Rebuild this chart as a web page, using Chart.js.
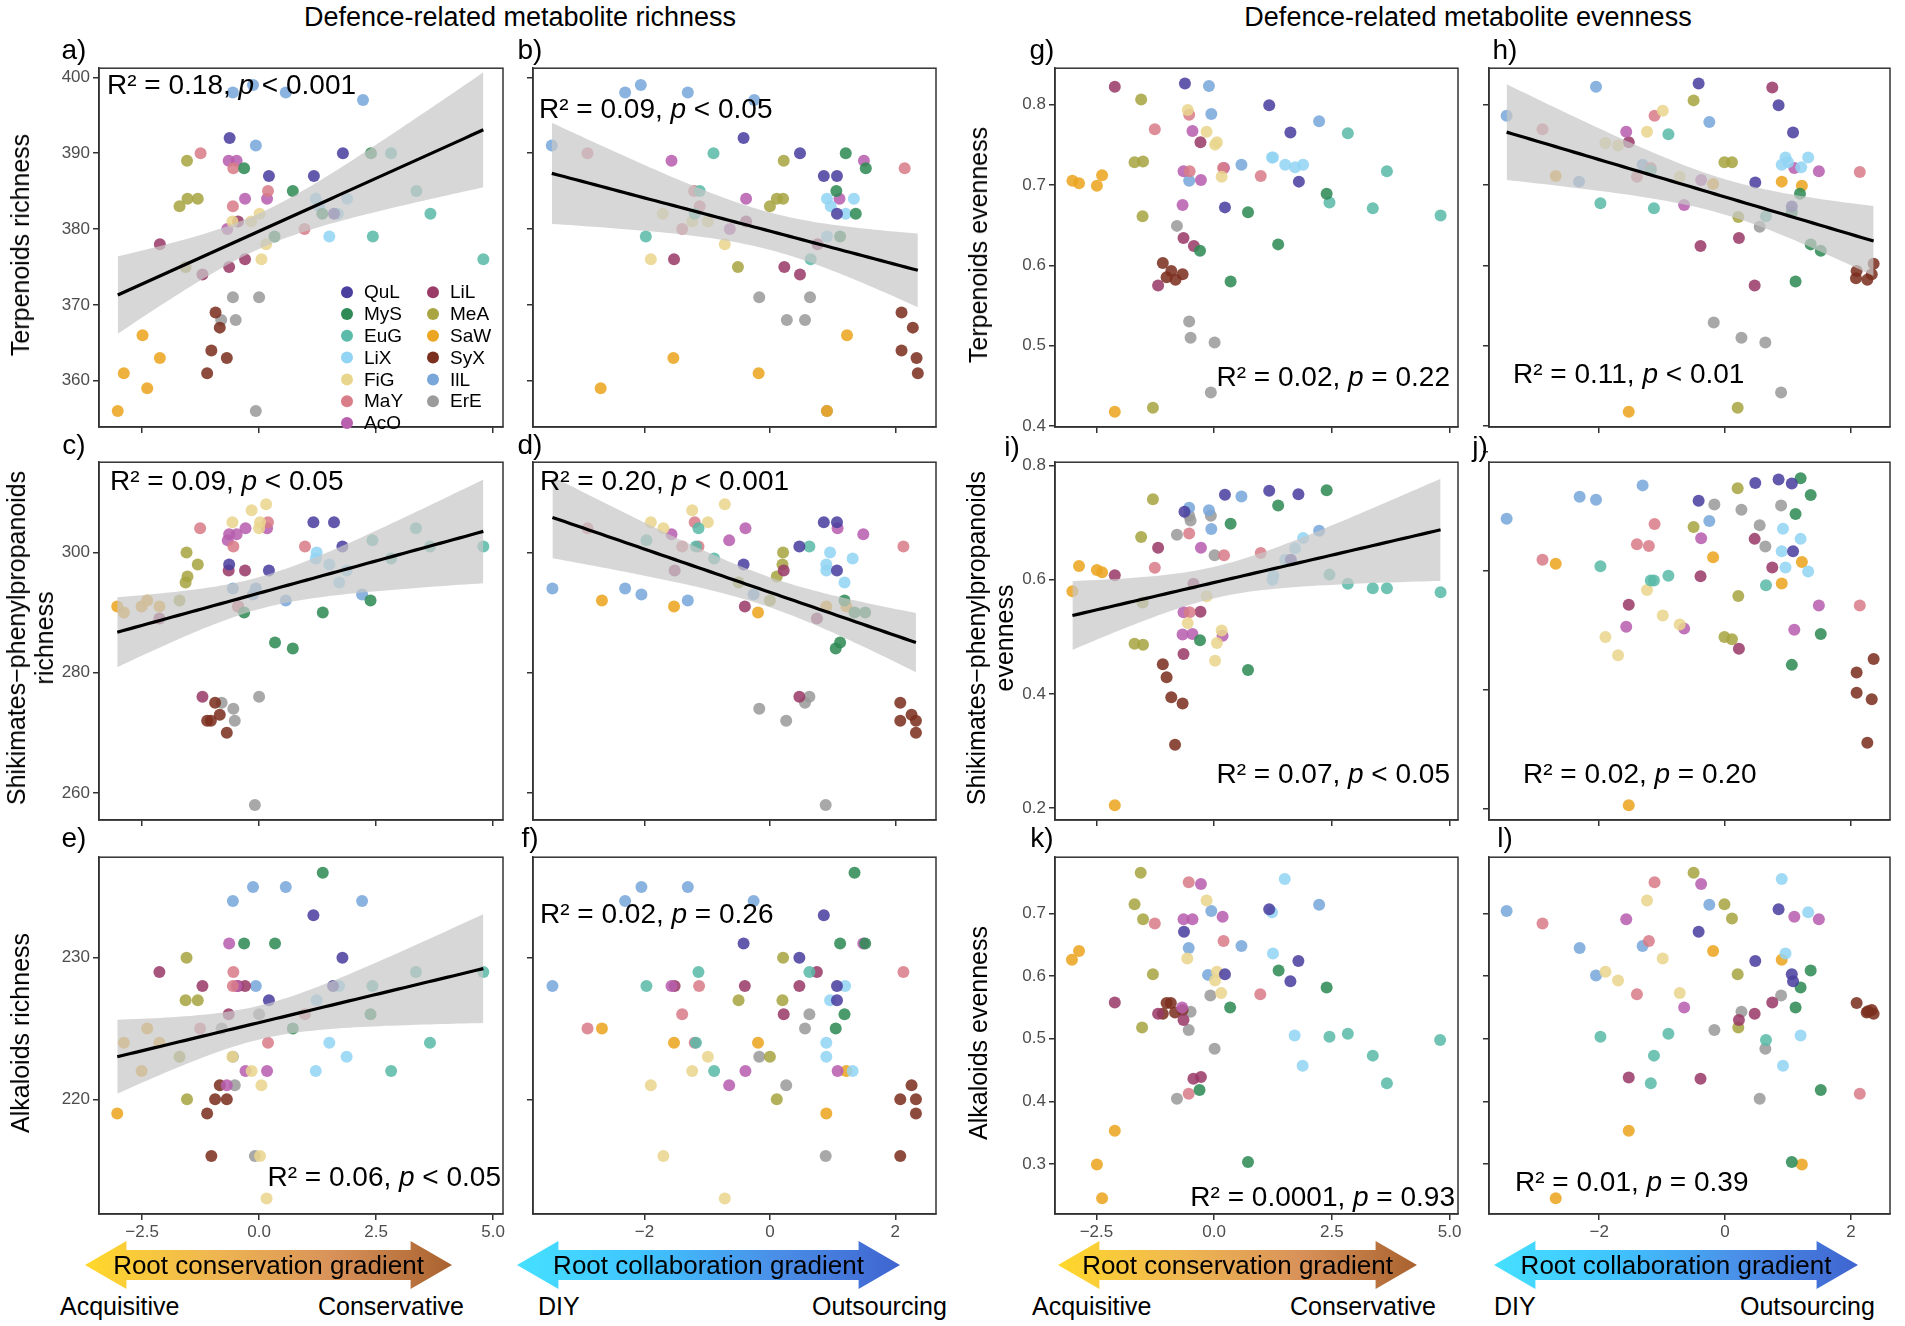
<!DOCTYPE html>
<html>
<head>
<meta charset="utf-8">
<script src="https://cdn.jsdelivr.net/npm/chart.js@4"></script>
<style>
  body { margin: 0; background: #fff; font-family: "Liberation Sans", Arial, sans-serif; }
  #fig { position: relative; width: 1905px; height: 1326px; overflow: hidden; }
  canvas { position: absolute; }
  .t { position: absolute; color: #000; white-space: nowrap; }
  .rot { transform: translate(-50%, -50%) rotate(-90deg); text-align: center; line-height: 28px; }
</style>
</head>
<body>
<div id="fig"></div>
<script>
// species order and colours
const species = ['QuL', 'MyS', 'EuG', 'LiX', 'FiG', 'MaY', 'AcO', 'LiL', 'MeA', 'SaW', 'SyX', 'IlL', 'ErE'];
const colors = ['#4a3f9f', '#2f8a55', '#5bbaa9', '#92d4f4', '#e9d68e', '#d97d88', '#b85fae', '#9a3b68', '#a9a543', '#eba520', '#7b2f1f', '#79a7da', '#9b9b9b'];

// tick labels
const xTicksCons = [-2.5, 0, 2.5, 5];
const xTicksColl = [-2, 0, 2];
const yTicksTerpR = [360, 370, 380, 390, 400];
const yTicksShikR = [260, 280, 300];
const yTicksAlkR = [220, 230];
const yTicksTerpE = [0.4, 0.5, 0.6, 0.7, 0.8];
const yTicksShikE = [0.2, 0.4, 0.6, 0.8];
const yTicksAlkE = [0.3, 0.4, 0.5, 0.6, 0.7];

// points per panel, in species order: [x, y]
const ptsA = [
  [[-0.63,392],[0.21,387],[1.17,387],[1.79,390],[1.60,382]],
  [[-0.32,388],[0.72,385],[1.35,382],[2.39,390],[0.33,379]],
  [[2.82,390],[3.36,385],[3.66,382],[2.43,379],[4.79,376]],
  [[1.21,384],[1.50,379],[1.88,384],[1.68,382],[1.28,383]],
  [[0.01,382],[-0.17,381],[0.15,378],[0.05,376],[-0.57,381]],
  [[-1.25,390],[-0.55,388],[-0.56,383],[0.19,385],[0.97,380]],
  [[-0.65,389],[-0.48,389],[-0.30,384],[0.17,384],[-0.68,380]],
  [[-2.12,378],[-1.21,374],[-0.64,375],[-0.30,376],[-0.45,381]],
  [[-1.54,389],[-1.70,383],[-1.53,384],[-1.31,384],[-1.57,375]],
  [[-3.02,356],[-2.89,361],[-2.39,359],[-2.12,363],[-2.49,366]],
  [[-1.11,361],[-1.02,364],[-0.84,367],[-0.93,369],[-0.69,363]],
  [[-0.56,398],[-0.13,399],[0.57,398],[2.22,397],[-0.07,391]],
  [[-0.56,371],[0.0,371],[-0.81,368],[-0.50,368],[-0.07,356]]
];
const ptsB = [
  [[-0.42,392],[0.48,390],[0.86,387],[1.07,387],[1.07,382]],
  [[1.21,390],[1.53,388],[1.06,385],[1.37,382],[1.12,379]],
  [[-0.9,390],[-1.12,385],[-1.2,382],[-1.98,379],[0.65,376]],
  [[0.91,384],[0.97,383],[1.34,384],[1.21,382],[0.91,379]],
  [[-1.71,382],[-1.24,381],[-0.99,381],[-0.72,378],[-1.9,376]],
  [[-2.91,390],[-1.21,385],[-1.12,383],[-1.4,380],[2.15,388]],
  [[-1.57,389],[-0.38,384],[1.11,384],[1.5,389],[-0.64,380]],
  [[-1.53,376],[-0.38,381],[0.23,375],[0.48,374],[0.76,378]],
  [[0.22,389],[0.11,384],[0.21,384],[0,383],[-0.51,375]],
  [[-2.7,359],[-1.54,363],[-0.18,361],[1.23,366],[0.91,356]],
  [[2.1,369],[2.28,367],[2.1,364],[2.34,363],[2.36,361]],
  [[-3.48,391],[-2.31,398],[-2.06,399],[-1.31,398],[-0.25,397]],
  [[-0.17,371],[0.64,371],[0.27,368],[0.56,368],[0.91,356]]
];
const ptsC = [
  [[1.16,305],[1.6,305],[1.78,301],[0.21,297],[-0.64,298]],
  [[-0.32,290],[0.34,285],[0.72,284],[1.36,290],[2.38,292]],
  [[2.42,302],[2.82,299],[3.35,304],[3.65,301],[4.79,301]],
  [[1.23,300],[1.21,299],[1.5,298],[1.71,295],[1.87,297]],
  [[-0.57,305],[-0.16,307],[0.15,308],[0.02,305],[0,304]],
  [[-1.26,304],[-0.55,301],[0.19,305],[0.98,301],[-0.45,291]],
  [[-0.67,302],[-0.64,303],[-0.48,303],[-0.29,304],[0.17,304]],
  [[-0.65,297],[-0.3,297],[-2.13,289],[-1.21,276],[-0.45,291]],
  [[-1.55,300],[-1.31,298],[-1.53,296],[-1.57,295],[-1.7,292]],
  [[-3.03,291],[-2.89,290],[-2.51,291],[-2.39,292],[-2.13,291]],
  [[-1.11,272],[-1.03,272],[-0.84,273],[-0.94,275],[-0.69,270]],
  [[-0.56,294],[-0.07,294],[-0.13,293],[0.57,292],[2.2,293]],
  [[-0.8,275],[-0.55,274],[-0.52,272],[0,276],[-0.09,258]]
];
const ptsD = [
  [[-0.42,298],[0.47,301],[0.86,305],[1.07,305],[1.07,297]],
  [[1.19,292],[1.35,290],[1.52,290],[1.12,285],[1.05,284]],
  [[-1.14,304],[-1.18,301],[-1.97,302],[-0.89,299],[0.63,301]],
  [[0.96,300],[0.9,298],[0.9,297],[1.32,299],[1.19,295]],
  [[-1.9,305],[-1.7,304],[-1.24,307],[-0.99,305],[-0.72,308]],
  [[-2.91,304],[-1.4,301],[-1.2,305],[-1.14,301],[2.13,301]],
  [[-1.57,303],[-0.65,302],[-0.39,304],[1.08,304],[1.49,303]],
  [[-1.52,297],[-0.4,291],[0.22,297],[0.75,289],[0.47,276]],
  [[0.21,300],[0.2,298],[0.11,296],[-0.5,295],[0,292]],
  [[-2.68,292],[-1.53,291],[-0.19,290],[0.9,291],[1.22,291]],
  [[2.08,275],[2.26,273],[2.08,272],[2.33,272],[2.33,270]],
  [[-3.47,294],[-2.31,294],[-2.05,293],[-1.31,292],[-0.26,293]],
  [[-0.17,274],[0.26,272],[0.56,275],[0.63,276],[0.89,258]]
];
const ptsE = [
  [[1.16,233],[1.78,230],[0.21,227],[1.58,228]],
  [[1.36,236],[-0.32,231],[0.34,231],[0.72,225],[2.38,226]],
  [[2.42,228],[3.35,229],[4.79,229],[3.65,224],[2.82,222]],
  [[1.71,228],[1.23,227],[1.5,224],[1.87,223],[1.21,222]],
  [[-0.16,222],[0.05,221],[0.02,216],[0.16,213],[-0.57,223]],
  [[-1.26,225],[-0.55,229],[-0.56,228],[0.19,224],[0.98,226]],
  [[-0.64,231],[-0.29,222],[0.17,222],[-0.69,221],[-0.48,228]],
  [[-2.13,229],[-1.21,228],[-0.45,228],[-0.3,228],[-0.65,226]],
  [[-1.55,230],[-1.57,227],[-1.31,227],[-1.7,223],[-1.54,220]],
  [[-3.03,219],[-2.89,224],[-2.51,222],[-2.39,225],[-2.13,224]],
  [[-0.84,221],[-0.94,220],[-0.69,220],[-1.11,219],[-1.02,216]],
  [[-0.56,234],[-0.13,235],[0.57,235],[2.2,234],[-0.07,228]],
  [[-0.8,225],[0,226],[-0.56,223],[-0.52,221],[-0.09,216]]
];
const ptsF = [
  [[-0.42,231],[0.47,230],[0.86,233],[1.07,228],[1.07,227]],
  [[1.35,236],[1.12,231],[1.52,231],[1.19,226],[1.05,225]],
  [[-1.14,229],[-1.97,228],[-1.18,224],[-0.89,222],[0.63,229]],
  [[1.2,228],[0.96,227],[0.9,224],[0.9,223],[1.32,222]],
  [[-1.9,221],[-1.7,216],[-1.24,222],[-0.99,223],[-0.72,213]],
  [[-2.91,225],[-1.4,226],[-1.13,228],[-1.2,224],[2.13,229]],
  [[-1.57,228],[-0.65,221],[-0.39,222],[1.08,222],[1.49,231]],
  [[-1.52,228],[-0.4,228],[0.22,226],[0.75,229],[0.47,228]],
  [[0.21,230],[0.2,227],[-0.5,227],[0,223],[0.11,220]],
  [[-2.68,225],[-1.53,224],[-0.19,224],[0.9,219],[1.22,222]],
  [[2.08,220],[2.26,221],[2.33,220],[2.33,219],[2.08,216]],
  [[-3.47,228],[-2.31,234],[-2.05,235],[-1.31,235],[-0.26,234]],
  [[-0.17,223],[0.26,221],[0.56,225],[0.63,226],[0.89,216]]
];
const ptsG = [
  [[-0.62,.826],[1.17,.799],[1.62,.765],[1.8,.704],[0.23,.672]],
  [[-0.3,.618],[0.35,.580],[0.72,.666],[1.36,.626],[2.39,.689]],
  [[2.84,.764],[3.67,.717],[3.37,.671],[4.81,.662],[2.45,.678]],
  [[1.23,.734],[1.51,.725],[1.72,.722],[1.89,.725],[1.25,.734]],
  [[-0.56,.793],[-0.16,.766],[0.02,.75],[0.06,.753],[0.16,.710]],
  [[-1.26,.769],[-0.53,.787],[-0.52,.717],[0.99,.711],[0.19,.721]],
  [[-0.65,.717],[-0.46,.767],[-0.28,.706],[0.21,.721],[-0.67,.675]],
  [[-2.11,.822],[-0.29,.753],[-0.65,.634],[-0.43,.624],[-1.19,.575]],
  [[-1.55,.806],[-1.69,.728],[-1.51,.729],[-1.52,.661],[-1.3,.423]],
  [[-3.01,.705],[-2.87,.702],[-2.49,.699],[-2.38,.712],[-2.11,.418]],
  [[-1.09,.603],[-0.91,.593],[-0.67,.589],[-1.01,.585],[-0.82,.582]],
  [[-0.11,.823],[-0.06,.788],[0.58,.725],[-0.53,.705],[2.23,.779]],
  [[-0.79,.649],[-0.53,.530],[-0.5,.510],[0.01,.504],[-0.07,.442]]
];
const ptsH = [
  [[-0.42,.826],[0.85,.799],[1.08,.765],[0.48,.703],[1.06,.673]],
  [[1.19,.689],[1.36,.626],[1.52,.618],[1.12,.580],[1.06,.666]],
  [[-0.9,.763],[-1.98,.677],[-1.13,.671],[-1.18,.718],[0.65,.661]],
  [[0.96,.734],[0.9,.725],[1.21,.722],[1.32,.734],[1.0,.728]],
  [[-0.99,.792],[-1.24,.766],[-1.9,.752],[-1.7,.749],[-0.72,.710]],
  [[-2.9,.769],[-1.12,.786],[-1.4,.710],[-1.18,.721],[2.14,.716]],
  [[-1.57,.766],[-0.65,.675],[-0.38,.706],[1.1,.721],[1.49,.717]],
  [[-1.53,.753],[0.75,.821],[-0.39,.624],[0.22,.634],[0.47,.575]],
  [[-0.5,.805],[-0.01,.728],[0.11,.728],[0.21,.66],[0.2,.423]],
  [[-2.69,.711],[-1.53,.418],[-0.19,.701],[0.9,.704],[1.22,.699]],
  [[2.09,.593],[2.36,.602],[2.33,.589],[2.08,.584],[2.26,.582]],
  [[-3.47,.786],[-2.05,.822],[-0.25,.778],[-2.32,.704],[-1.31,.725]],
  [[-0.18,.529],[0.26,.510],[0.55,.648],[0.64,.504],[0.89,.442]]
];
const ptsI = [
  [[-0.63,.719],[0.23,.749],[1.17,.756],[1.79,.750],[1.63,.635]],
  [[-0.3,.494],[0.35,.698],[0.72,.442],[1.36,.730],[2.39,.757]],
  [[2.45,.609],[2.84,.593],[3.37,.585],[3.67,.585],[4.81,.578]],
  [[1.24,.60],[1.26,.607],[1.51,.635],[1.72,.655],[1.89,.673]],
  [[-0.56,.524],[-0.16,.571],[0.02,.458],[0.06,.489],[0.16,.511]],
  [[-1.26,.621],[-0.53,.681],[-0.52,.543],[0.99,.647],[0.21,.643]],
  [[-0.65,.543],[-0.67,.504],[-0.46,.505],[-0.28,.656],[0.18,.502]],
  [[-2.11,.608],[-1.19,.656],[-0.44,.593],[-0.29,.544],[-0.65,.470]],
  [[-1.3,.741],[-1.55,.675],[-1.52,.560],[-1.69,.488],[-1.51,.486]],
  [[-3.01,.580],[-2.87,.624],[-2.49,.617],[-2.38,.613],[-2.11,.205]],
  [[-1.09,.452],[-1.01,.429],[-0.91,.394],[-0.67,.383],[-0.83,.311]],
  [[-0.53,.726],[-0.11,.722],[-0.06,.689],[0.58,.746],[2.23,.686]],
  [[-0.79,.679],[-0.53,.712],[-0.5,.704],[-0.07,.712],[0.01,.643]]
];
const ptsJ = [
  [[-0.42,.718],[0.48,.748],[0.85,.754],[1.06,.747],[1.08,.633]],
  [[1.2,.756],[1.36,.728],[1.12,.696],[1.52,.494],[1.06,.442]],
  [[-1.98,.608],[-1.18,.584],[-1.13,.584],[-0.9,.592],[0.65,.576]],
  [[0.92,.671],[1.2,.654],[0.9,.633],[0.96,.606],[1.32,.599]],
  [[-1.9,.489],[-1.7,.458],[-1.24,.568],[-0.99,.525],[-0.72,.510]],
  [[-2.9,.619],[-1.4,.645],[-1.21,.642],[-1.12,.679],[2.14,.542]],
  [[-1.57,.506],[-0.65,.503],[-0.38,.655],[1.1,.501],[1.49,.542]],
  [[-1.53,.543],[-0.39,.591],[0.22,.469],[0.47,.654],[0.75,.606]],
  [[-0.5,.674],[0.2,.739],[-0.01,.489],[0.11,.485],[0.21,.558]],
  [[-2.69,.612],[-1.53,.206],[-0.19,.623],[0.9,.579],[1.22,.615]],
  [[2.36,.452],[2.09,.429],[2.09,.395],[2.33,.384],[2.26,.311]],
  [[-3.47,.688],[-2.31,.725],[-2.05,.72],[-1.31,.744],[-0.25,.684]],
  [[-0.17,.712],[0.26,.703],[0.89,.710],[0.55,.677],[0.64,.641]]
];
const ptsK = [
  [[1.17,.707],[-0.64,.671],[0.23,.603],[1.79,.624],[1.62,.592]],
  [[1.37,.609],[2.39,.582],[0.34,.550],[-0.31,.418],[0.72,.303]],
  [[2.45,.503],[2.84,.508],[3.37,.473],[3.67,.429],[4.8,.498]],
  [[1.5,.755],[1.23,.702],[1.25,.636],[1.71,.505],[1.88,.457]],
  [[-0.16,.721],[-0.57,.628],[0.06,.607],[0.02,.593],[0.15,.573]],
  [[-0.54,.750],[-1.26,.684],[0.2,.656],[0.98,.571],[-0.54,.412]],
  [[-0.28,.747],[-0.65,.691],[-0.46,.691],[0.18,.695],[-0.68,.55]],
  [[-2.11,.558],[-1.19,.54],[-0.65,.53],[-0.44,.436],[-0.28,.439]],
  [[-1.56,.765],[-1.69,.715],[-1.51,.691],[-1.3,.603],[-1.53,.518]],
  [[-3.02,.626],[-2.87,.640],[-2.11,.353],[-2.49,.299],[-2.38,.245]],
  [[-1.01,.557],[-0.92,.557],[-1.09,.54],[-0.83,.542],[-0.67,.546]],
  [[-0.06,.704],[-0.54,.645],[-0.13,.602],[0.58,.648],[2.23,.714]],
  [[-0.5,.543],[-0.54,.514],[-0.08,.569],[0.01,.484],[-0.79,.404]]
];
const ptsL = [
  [[-0.42,.671],[0.48,.624],[0.85,.707],[1.06,.603],[1.08,.592]],
  [[1.36,.609],[1.2,.582],[1.12,.55],[1.52,.418],[1.06,.303]],
  [[-1.98,.503],[-0.9,.508],[-1.13,.473],[-1.18,.429],[0.65,.498]],
  [[0.9,.755],[1.32,.702],[0.96,.636],[1.2,.505],[0.92,.457]],
  [[-1.24,.721],[-0.99,.628],[-1.9,.607],[-1.7,.593],[-0.72,.573]],
  [[-1.12,.75],[-2.9,.684],[-1.21,.656],[-1.4,.571],[2.14,.412]],
  [[-0.38,.747],[-1.57,.691],[1.1,.695],[1.49,.691],[-0.65,.55]],
  [[-1.53,.438],[-0.39,.436],[0.22,.53],[0.47,.54],[0.75,.558]],
  [[-0.5,.765],[-0.01,.715],[0.11,.692],[0.2,.603],[0.21,.518]],
  [[-0.19,.640],[0.9,.626],[-1.53,.353],[1.22,.299],[-2.69,.245]],
  [[2.09,.557],[2.33,.546],[2.25,.542],[2.36,.54],[2.27,.544]],
  [[-3.47,.704],[-2.31,.645],[-2.05,.601],[-1.31,.648],[-0.25,.714]],
  [[0.26,.543],[0.89,.569],[-0.17,.514],[0.64,.484],[0.55,.404]]
];

// panel layout: plot area in page pixels
const cols = [[99, 503], [533, 936], [1055, 1458], [1489, 1890]];
const rows = [[63, 427], [457, 820], [852, 1214]];

const panels = [
  { id: 'a', pts: ptsA, c: 0, r: 0, x: [-3.42, 5.21], y: [353.9, 401.2], yt: yTicksTerpR, fit: true, stat: ['0.18', '<', '0.001'], pos: ['tl', 8, 18] },
  { id: 'b', pts: ptsB, c: 1, r: 0, x: [-3.78, 2.65], y: [353.9, 401.2], yt: yTicksTerpR, fit: true, stat: ['0.09', '<', '0.05'], pos: ['tl', 6, 42] },
  { id: 'c', pts: ptsC, c: 0, r: 1, x: [-3.42, 5.21], y: [255.5, 315], yt: yTicksShikR, fit: true, stat: ['0.09', '<', '0.05'], pos: ['tl', 11, 20] },
  { id: 'd', pts: ptsD, c: 1, r: 1, x: [-3.78, 2.65], y: [255.5, 315], yt: yTicksShikR, fit: true, stat: ['0.20', '<', '0.001'], pos: ['tl', 7, 20] },
  { id: 'e', pts: ptsE, c: 0, r: 2, x: [-3.42, 5.21], y: [211.9, 237.1], yt: yTicksAlkR, fit: true, stat: ['0.06', '<', '0.05'], pos: ['br', -2, -36] },
  { id: 'f', pts: ptsF, c: 1, r: 2, x: [-3.78, 2.65], y: [211.9, 237.1], yt: yTicksAlkR, fit: false, stat: ['0.02', '=', '0.26'], pos: ['tl', 7, 58] },
  { id: 'g', pts: ptsG, c: 2, r: 0, x: [-3.38, 5.18], y: [0.399, 0.845], yt: yTicksTerpE, fit: false, stat: ['0.02', '=', '0.22'], pos: ['br', -8, -49] },
  { id: 'h', pts: ptsH, c: 3, r: 0, x: [-3.75, 2.62], y: [0.399, 0.845], yt: yTicksTerpE, fit: true, stat: ['0.11', '<', '0.01'], pos: ['bl', 24, -52] },
  { id: 'i', pts: ptsI, c: 2, r: 1, x: [-3.38, 5.18], y: [0.179, 0.806], yt: yTicksShikE, fit: true, stat: ['0.07', '<', '0.05'], pos: ['br', -8, -45] },
  { id: 'j', pts: ptsJ, c: 3, r: 1, x: [-3.75, 2.62], y: [0.181, 0.783], yt: yTicksShikE, fit: false, stat: ['0.02', '=', '0.20'], pos: ['bl', 34, -45] },
  { id: 'k', pts: ptsK, c: 2, r: 2, x: [-3.38, 5.18], y: [0.22, 0.79], yt: yTicksAlkE, fit: false, stat: ['0.0001', '=', '0.93'], pos: ['br', -3, -16] },
  { id: 'l', pts: ptsL, c: 3, r: 2, x: [-3.75, 2.62], y: [0.22, 0.79], yt: yTicksAlkE, fit: false, stat: ['0.01', '=', '0.39'], pos: ['bl', 26, -31] }
];

const fig = document.getElementById('fig');
const L = 70, B = 34, T = 8, R = 8;
const FONT = '"Liberation Sans", Arial, sans-serif';

// least squares fit with 95% confidence band
const fitLine = (pts) => {
  const all = pts.flat();
  const n = all.length;
  const mx = all.reduce((s, p) => s + p[0], 0) / n;
  const my = all.reduce((s, p) => s + p[1], 0) / n;
  let sxx = 0, sxy = 0;
  all.forEach(p => { sxx += (p[0] - mx) ** 2; sxy += (p[0] - mx) * (p[1] - my); });
  const b = sxy / sxx, a = my - b * mx;
  let sse = 0;
  all.forEach(p => { sse += (p[1] - a - b * p[0]) ** 2; });
  const s = Math.sqrt(sse / (n - 2));
  const xs = all.map(p => p[0]);
  const x0 = Math.min(...xs), x1 = Math.max(...xs);
  const line = [], up = [], lo = [];
  for (let i = 0; i <= 60; i++) {
    const x = x0 + (x1 - x0) * i / 60;
    const yhat = a + b * x;
    const se = s * Math.sqrt(1 / n + (x - mx) ** 2 / sxx);
    line.push({ x, y: yhat });
    up.push({ x, y: yhat + 1.99 * se });
    lo.push({ x, y: yhat - 1.99 * se });
  }
  return { line, up, lo };
};

// frame, stats text and legend
const decor = {
  id: 'decor',
  afterDraw(chart) {
    const o = chart.options.plugins.decor;
    const { ctx, chartArea: ca } = chart;
    ctx.save();
    ctx.strokeStyle = '#333';
    ctx.lineWidth = 1.5;
    ctx.strokeRect(ca.left, ca.top, ca.right - ca.left, ca.bottom - ca.top);
    // R² text
    const [r2, op, pv] = o.stat;
    const parts = [['R² = ' + r2 + ', ', 'normal'], ['p', 'italic'], [' ' + op + ' ' + pv, 'normal']];
    ctx.fillStyle = '#000';
    ctx.textBaseline = 'middle';
    let w = 0;
    parts.forEach(p => { ctx.font = p[1] + ' 28px ' + FONT; w += ctx.measureText(p[0]).width; });
    const [anchor, dx, dy] = o.pos;
    let x = anchor === 'br' ? ca.right + dx - w : ca.left + dx;
    const y = anchor === 'tl' ? ca.top + dy : ca.bottom + dy;
    parts.forEach(p => {
      ctx.font = p[1] + ' 28px ' + FONT;
      ctx.fillText(p[0], x, y);
      x += ctx.measureText(p[0]).width;
    });
    // legend in panel a
    if (o.legend) {
      ctx.font = '19px ' + FONT;
      species.forEach((sp, i) => {
        const col = i < 7 ? 0 : 1;
        const row = i < 7 ? i : i - 7;
        const lx = ca.left + (col ? 334 : 248);
        const ly = ca.top + 224 + row * 21.8;
        ctx.fillStyle = colors[i];
        ctx.beginPath();
        ctx.arc(lx, ly, 6, 0, Math.PI * 2);
        ctx.fill();
        ctx.fillStyle = '#000';
        ctx.fillText(sp, lx + 17, ly + 1);
      });
    }
    ctx.restore();
  }
};

const fmtX = (v, c) => {
  const s = (c === 0 || c === 2) ? v.toFixed(1) : v.toFixed(0);
  return s.replace('-', '\u2212');
};

panels.forEach(p => {
  const [pl, pr] = cols[p.c];
  const [pt, pb] = rows[p.r];
  const cv = document.createElement('canvas');
  const w = pr - pl + L + R, h = pb - pt + T + B;
  cv.width = w; cv.height = h;
  cv.style.left = (pl - L) + 'px';
  cv.style.top = (pt - T) + 'px';
  cv.style.width = w + 'px';
  cv.style.height = h + 'px';
  fig.appendChild(cv);

  const showY = p.c === 0 || p.c === 2;
  const showX = p.r === 2;
  const xt = (p.c === 0 || p.c === 2) ? xTicksCons : xTicksColl;

  const datasets = p.pts.map((arr, i) => ({
    type: 'scatter',
    data: arr.map(q => ({ x: q[0], y: q[1] })),
    backgroundColor: colors[i] + 'dd',
    borderWidth: 0,
    pointRadius: 6,
    clip: false,
    order: 3
  }));
  if (p.fit) {
    const f = fitLine(p.pts);
    datasets.push({ type: 'line', data: f.up, borderWidth: 0, pointRadius: 0, fill: '+1', backgroundColor: 'rgba(200,200,200,0.72)', order: 2 });
    datasets.push({ type: 'line', data: f.lo, borderWidth: 0, pointRadius: 0, fill: false, order: 2 });
    datasets.push({ type: 'line', data: f.line, borderColor: '#000', borderWidth: 3.2, pointRadius: 0, fill: false, order: 1 });
  }

  new Chart(cv, {
    type: 'scatter',
    data: { datasets },
    options: {
      animation: false,
      responsive: false,
      devicePixelRatio: 1,
      layout: { padding: { top: T, right: R, left: 0, bottom: 0 } },
      plugins: {
        legend: { display: false },
        tooltip: { enabled: false },
        decor: { stat: p.stat, pos: p.pos, legend: p.id === 'a' }
      },
      scales: {
        x: {
          type: 'linear', min: p.x[0], max: p.x[1],
          afterBuildTicks: s => { s.ticks = xt.map(v => ({ value: v })); },
          afterFit: s => { s.height = B; },
          ticks: { display: true, color: showX ? '#4d4d4d' : 'rgba(0,0,0,0)', font: { size: 17, family: FONT }, padding: 2, maxRotation: 0, autoSkip: false, callback: v => fmtX(v, p.c) },
          grid: { drawOnChartArea: false, drawTicks: true, tickLength: 6, color: '#333', lineWidth: 1.5 },
          border: { display: true, color: '#333', width: 1.5 }
        },
        y: {
          type: 'linear', min: p.y[0], max: p.y[1],
          afterBuildTicks: s => { s.ticks = p.yt.map(v => ({ value: v })); },
          afterFit: s => { s.width = L; },
          ticks: { display: true, color: showY ? '#4d4d4d' : 'rgba(0,0,0,0)', font: { size: 17, family: FONT }, padding: 3, autoSkip: false, callback: v => (p.c === 2 ? v.toFixed(1) : String(v)) },
          grid: { drawOnChartArea: false, drawTicks: true, tickLength: 6, color: '#333', lineWidth: 1.5 },
          border: { display: true, color: '#333', width: 1.5 }
        }
      }
    },
    plugins: [decor]
  });
});

// text overlays
const addText = (txt, x, y, size, extra) => {
  const d = document.createElement('div');
  d.className = 't' + (extra ? ' ' + extra : '');
  d.style.left = x + 'px';
  d.style.top = y + 'px';
  d.style.fontSize = size + 'px';
  d.innerHTML = txt;
  fig.appendChild(d);
  return d;
};
const centerText = (txt, cx, cy, size) => {
  const d = addText(txt, cx, cy, size);
  d.style.transform = 'translate(-50%, -50%)';
};

centerText('Defence-related metabolite richness', 520, 17, 27);
centerText('Defence-related metabolite evenness', 1468, 17, 27);

const letters = [['a)', 62, 50], ['b)', 518, 50], ['g)', 1030, 50], ['h)', 1493, 50],
  ['c)', 62, 445], ['d)', 518, 445], ['i)', 1000, 447], ['j)', 1468, 447],
  ['e)', 62, 838], ['f)', 518, 838], ['k)', 1030, 838], ['l)', 1493, 838]];
letters.forEach(l => centerText(l[0], l[1] + 12, l[2], 28));

const yTitles = [
  ['Terpenoids richness', 20, 245], ['Shikimates\u2212phenylpropanoids<br>richness', 30, 638], ['Alkaloids richness', 20, 1033],
  ['Terpenoids evenness', 978, 245], ['Shikimates\u2212phenylpropanoids<br>evenness', 990, 638], ['Alkaloids evenness', 978, 1033]
];
yTitles.forEach(t => addText(t[0], t[1], t[2], 25, 'rot'));

// gradient arrows
const arrows = [
  [85, 452, 'Root conservation gradient', ['#ffd82a', '#f0b850', '#d9935a', '#a9622f']],
  [517, 900, 'Root collaboration gradient', ['#45e0ff', '#40c4ff', '#4a90e8', '#3f64d0']],
  [1058, 1417, 'Root conservation gradient', ['#ffd82a', '#f0b850', '#d9935a', '#a9622f']],
  [1494, 1858, 'Root collaboration gradient', ['#45e0ff', '#40c4ff', '#4a90e8', '#3f64d0']]
];
const svgNS = 'http://www.w3.org/2000/svg';
arrows.forEach((a, k) => {
  const [x0, x1, label, stops] = a;
  const wid = x1 - x0, hh = 48, shaft = 30, head = 46;
  const svg = document.createElementNS(svgNS, 'svg');
  svg.setAttribute('width', wid);
  svg.setAttribute('height', hh);
  svg.style.position = 'absolute';
  svg.style.left = x0 + 'px';
  svg.style.top = (1265 - hh / 2) + 'px';
  const gid = 'g' + k;
  svg.innerHTML = `<defs><linearGradient id="${gid}" x1="0" x2="1" y1="0" y2="0">
    ${stops.map((c, i) => `<stop offset="${i / (stops.length - 1)}" stop-color="${c}"/>`).join('')}
    </linearGradient></defs>
    <polygon fill="url(#${gid})" points="0,${hh / 2} ${head * 0.9},0 ${head * 0.9},${(hh - shaft) / 2} ${wid - head * 0.9},${(hh - shaft) / 2} ${wid - head * 0.9},0 ${wid},${hh / 2} ${wid - head * 0.9},${hh} ${wid - head * 0.9},${(hh + shaft) / 2} ${head * 0.9},${(hh + shaft) / 2} ${head * 0.9},${hh}"/>`;
  fig.appendChild(svg);
  centerText(label, x0 + wid / 2, 1265, 26);
});
const ends = [['Acquisitive', 60], ['Conservative', 318], ['DIY', 538], ['Outsourcing', 812],
  ['Acquisitive', 1032], ['Conservative', 1290], ['DIY', 1494], ['Outsourcing', 1740]];
ends.forEach(e => addText(e[0], e[1], 1292, 25));
</script>
</body>
</html>
